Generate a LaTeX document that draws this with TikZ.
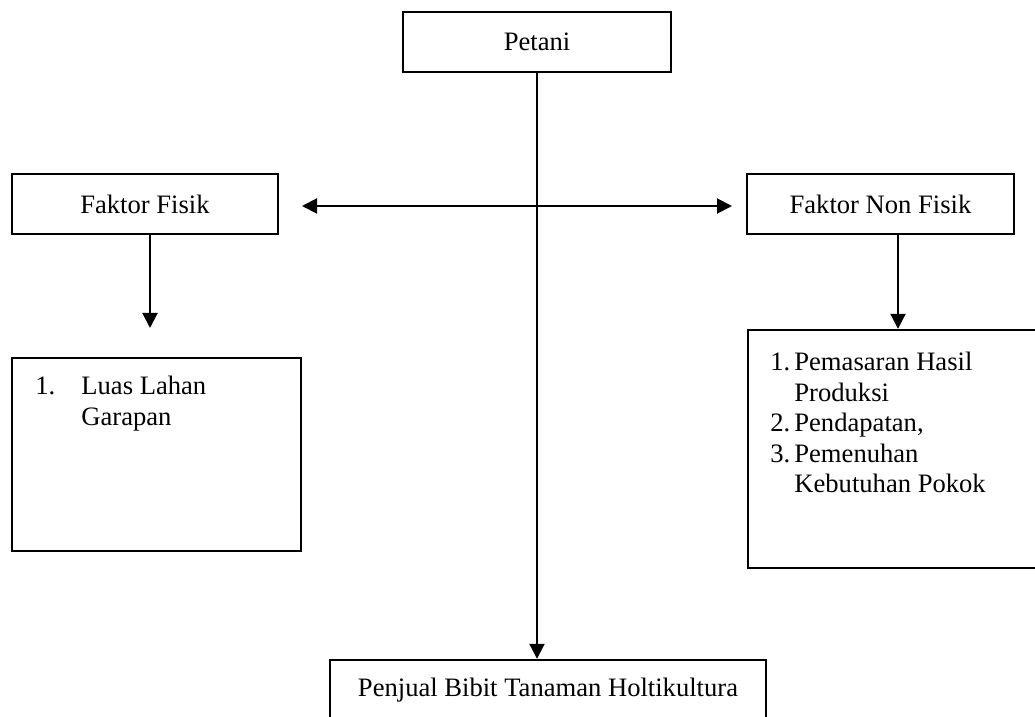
\documentclass[tikz,border=0pt]{standalone}
\usepackage{fontspec}
\setmainfont{Liberation Serif}
\usetikzlibrary{arrows.meta}
\begin{document}
\begin{tikzpicture}[x=0.5pt,y=-0.5pt,
  every node/.style={font=\fontsize{13.3pt}{15.2pt}\selectfont},
  box/.style={draw, line width=1.2pt, inner sep=0pt},
  lbl/.style={inner sep=0pt, align=left},
  conn/.style={line width=1pt},
  tip/.tip={Triangle[length=7.5pt,width=7.5pt]},
  arr/.style={conn,-tip},
  darr/.style={conn,tip-tip}]
\useasboundingbox (0,0) rectangle (1035,717);
\clip (0,0) rectangle (1035,717);
\fill[white] (0,0) rectangle (1035,717);

% boxes
\node[box, minimum width=134pt, minimum height=30pt] (petani) at (537,42) {Petani};
\node[box, minimum width=133pt, minimum height=30pt] (fisik) at (145,204) {Faktor Fisik};
\node[box, minimum width=133.5pt, minimum height=30pt] (nonfisik) at (880.5,204) {Faktor Non Fisik};
\node[box, minimum width=144.5pt, minimum height=96.5pt] (luas) at (156.5,454.5) {};
\node[box, minimum width=148.5pt, minimum height=119pt] (rbox) at (896.5,449) {};
\node[box, minimum width=218pt, minimum height=30pt] (penjual) at (548,690) {Penjual Bibit Tanaman Holtikultura};

% list texts
\node[lbl, anchor=north west] (luastext) at (35,376)
  {\makebox[23pt][l]{1.}Luas Lahan\\\hspace*{23pt}Garapan};
\node[lbl, anchor=north west] (rtext) at (770,352)
  {\makebox[12pt][l]{1.}Pemasaran Hasil\\
   \hspace*{12pt}Produksi\\
   \makebox[12pt][l]{2.}Pendapatan,\\
   \makebox[12pt][l]{3.}Pemenuhan\\
   \hspace*{12pt}Kebutuhan Pokok};

% connector coordinates
\coordinate (hl) at (302,206);
\coordinate (hr) at (732,206);
\coordinate (fx) at (150,328);
\coordinate (nx) at (898,0);

% connectors
\draw[arr] (petani.south) -- (petani.south |- penjual.north);
\draw[darr] (hl) -- (hr);
\draw[arr] (fisik.south -| fx) -- (fx);
\draw[arr] (nonfisik.south -| nx) -- (rbox.north -| nx);
\end{tikzpicture}
\end{document}
